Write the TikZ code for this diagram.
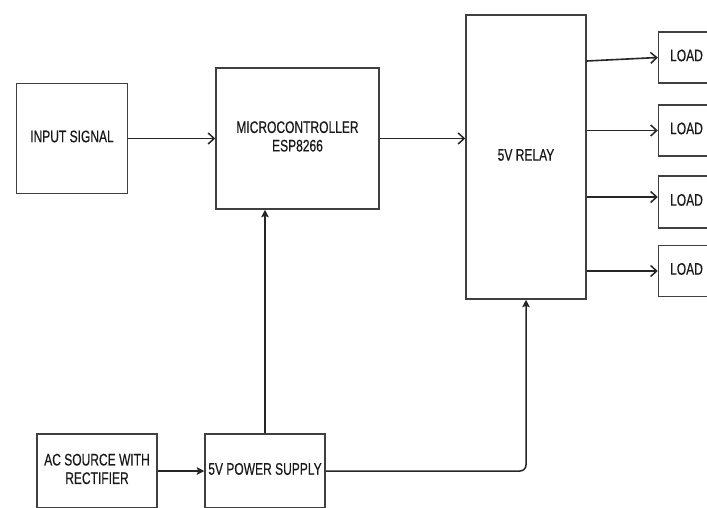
\documentclass[tikz,border=0pt]{standalone}
\usepackage{fontspec}
\setmainfont{Liberation Sans}
\newfontfamily\lblfont{Liberation Sans}[FakeBold=0.5]
\usepackage{graphicx}
\usetikzlibrary{arrows.meta,calc}
\newcommand{\lbl}[1]{\scalebox{0.72}[1]{\begin{tabular}{@{}c@{}}#1\end{tabular}}}
\tikzset{
  blk/.style={draw=black!75, line width=1.5pt, rectangle, inner sep=0pt,
    text=black!90, font=\lblfont\fontsize{16.7}{18.5}\selectfont},
  openarr/.style={draw=black!85, line width=1.6pt, -{Straight Barb[length=6pt,width=11pt,line width=1.5pt]}},
  fillarr/.style={draw=black!85, line width=1.5pt, -{Stealth[length=7.5pt,width=7.5pt,inset=1.5pt]}}
}
\begin{document}
\begin{tikzpicture}[x=1pt,y=-1pt]
\useasboundingbox (0,0) rectangle (707,507);
\clip (0,0) rectangle (707,507);
\fill[white] (0,0) rectangle (707,507);
\node[blk, minimum width=111pt, minimum height=110pt] (input) at (72,138.5) {\lbl{INPUT SIGNAL}};
\node[blk, minimum width=163pt, minimum height=141pt] (micro) at (297.5,138.5) {\lbl{MICROCONTROLLER\\ESP8266}};
\node[blk, minimum width=120pt, minimum height=284pt] (relay) at (526,157) {\lbl{5V RELAY}};
\node[blk, minimum width=56pt, minimum height=51pt] (load1) at (686.5,57.5) {\lbl{LOAD}};
\node[blk, minimum width=56pt, minimum height=51pt] (load2) at (686.5,130.5) {\lbl{LOAD}};
\node[blk, minimum width=56pt, minimum height=52pt] (load3) at (686.5,202) {\lbl{LOAD}};
\node[blk, minimum width=56pt, minimum height=51pt] (load4) at (686.5,271) {\lbl{LOAD}};
\node[blk, minimum width=120pt, minimum height=74pt] (ac) at (97,471) {\lbl{AC SOURCE WITH\\RECTIFIER}};
\node[blk, minimum width=120pt, minimum height=74pt] (ps) at (265,471) {\lbl{5V POWER SUPPLY}};
% connectors
\draw[openarr] (input.east) -- (input.east -| micro.west);
\draw[openarr] (micro.east) -- (micro.east -| relay.west);
\draw[openarr] ($(relay.east |- load1.west)+(0,3.5)$) -- (load1.west);
\draw[openarr] (relay.east |- load2.west) -- (load2.west);
\draw[openarr] ($(relay.east |- load3.west)+(0,-5)$) -- ($(load3.west)+(0,-5)$);
\draw[openarr] (relay.east |- load4.west) -- (load4.west);
\draw[fillarr] (ac.east) -- (ps.west);
\draw[fillarr] (ps.north) -- (ps.north |- micro.south);
\draw[fillarr, rounded corners=6pt] (ps.east) -| (relay.south);
\end{tikzpicture}
\end{document}
